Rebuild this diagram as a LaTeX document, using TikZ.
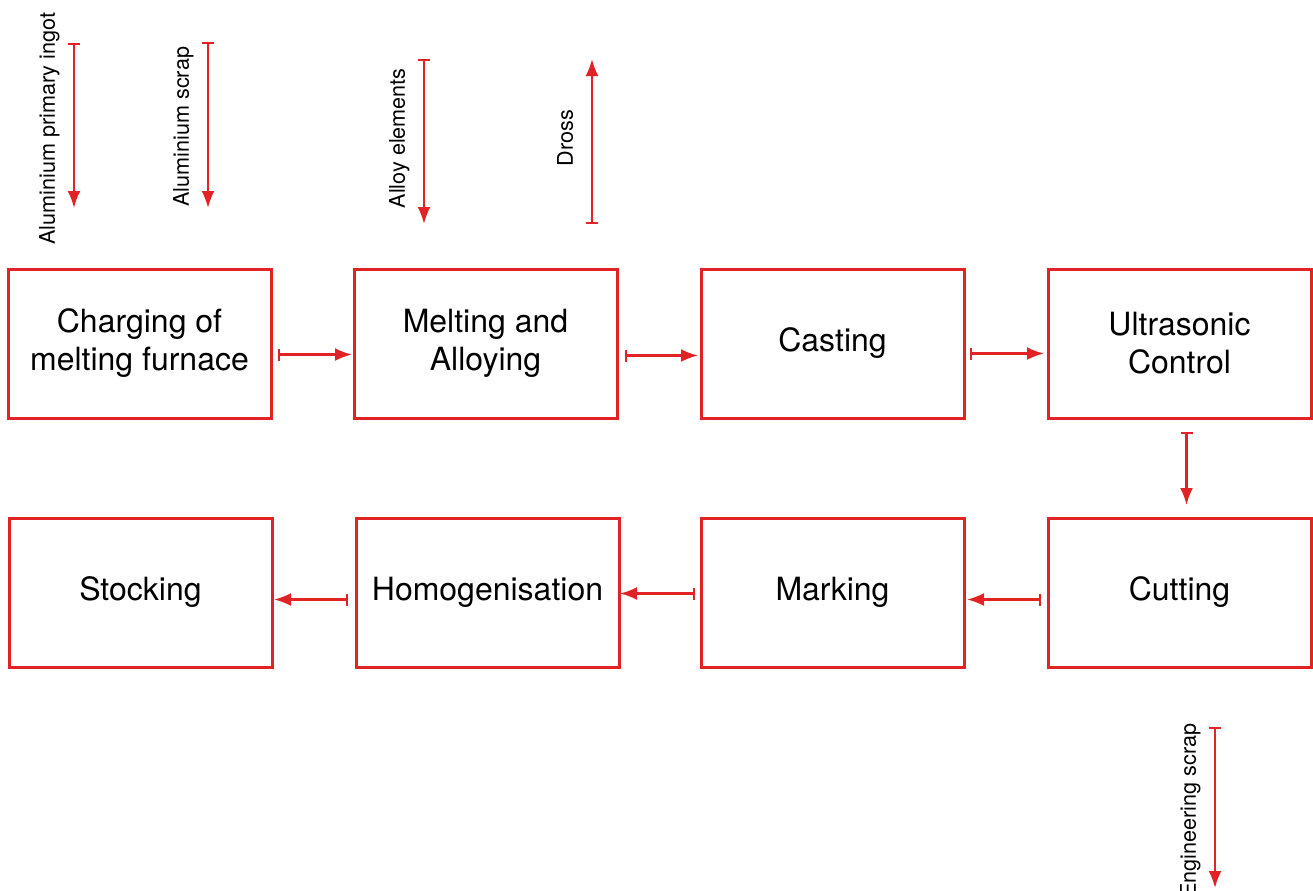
\documentclass[tikz,border=0pt]{standalone}
\usepackage{fontspec}
\setmainfont{TeX Gyre Heros}
\usepackage{tikz}
\usetikzlibrary{positioning,arrows.meta}
\usepackage{xcolor}
\definecolor{flowred}{RGB}{226,35,38}
\tikzstyle{inputlabel} = [
    rotate=90,
    anchor=south,
    font=\fontsize{10.8}{13}\selectfont,
    text=black,
    text depth=0pt,
    inner xsep=0pt,
    inner ysep=9pt
]

\begin{document}
\begin{tikzpicture}[
        x=0.5pt, y=-0.5pt,
        procbox/.style={
            rectangle, draw=flowred, line width=1.5pt,
            minimum width=131.5pt, minimum height=74.5pt,
            outer sep=0pt, align=center,
            font=\fontsize{16}{19}\selectfont
        },
        flow/.style={
            draw=flowred, line width=1.1pt,
            {Bar[width=6pt]}-{Latex[length=8.5pt,width=6.5pt]}
        }
    ]
        \useasboundingbox (0,0) rectangle (1313,890);

        % top row
        \node[procbox] (charging) at (139.5,343.5) {Charging of\\melting furnace};
        \node[procbox] (melting) [right = 41.5pt of charging] {Melting and\\Alloying};
        \node[procbox] (casting) [right = 42pt of melting] {Casting};
        \node[procbox] (ultrasonic) [right = 42pt of casting] {Ultrasonic\\Control};
        % bottom row
        \node[procbox] (cutting) [below = 50pt of ultrasonic] {Cutting};
        \node[procbox] (marking) [left = 42pt of cutting] {Marking};
        \node[procbox] (homog) [left = 41pt of marking] {Homogenisation};
        \node[procbox] (stocking) [left = 42pt of homog] {Stocking};

        \draw[flow] ([xshift=3.5pt,yshift=-5.5pt]charging.east) -- ([xshift=-1pt,yshift=-5.5pt]melting.west);
        \draw[flow] ([xshift=4pt,yshift=-6pt]melting.east) -- ([xshift=-1.5pt,yshift=-6pt]casting.west);
        \draw[flow] ([xshift=3pt,yshift=-5pt]casting.east) -- ([xshift=-2pt,yshift=-5pt]ultrasonic.west);
        \draw[flow] ([xshift=3.5pt,yshift=-7pt]ultrasonic.south) -- ([xshift=3.5pt,yshift=6.5pt]cutting.north);
        \draw[flow] ([xshift=-3.5pt,yshift=-3.5pt]cutting.west) -- ([xshift=1.5pt,yshift=-3.5pt]marking.east);
        \draw[flow] ([xshift=-3pt,yshift=-0.5pt]marking.west) -- ([xshift=0.5pt,yshift=-0.5pt]homog.east);
        \draw[flow] ([xshift=-4pt,yshift=-3.5pt]homog.west) -- ([xshift=1pt,yshift=-3.5pt]stocking.east);

        % material in and out
        \coordinate (ingot-a) at (74,43);
        \coordinate (ingot-b) at (74,208);
        \coordinate (scrap-a) at (208,42);
        \coordinate (scrap-b) at (208,208);
        \coordinate (alloy-a) at (424,59);
        \coordinate (alloy-b) at (424,224);
        \coordinate (dross-a) at (592,224);
        \coordinate (dross-b) at (592,59);
        \coordinate (engscrap-a) at (1215,727);
        \coordinate (engscrap-b) at (1215,888);

        \draw[flow] (ingot-a) -- (ingot-b) node[inputlabel, pos=0.52] (ingot) {Aluminium primary ingot};
        \draw[flow] (scrap-a) -- (scrap-b) node[inputlabel, pos=0.51] (scrap) {Aluminium scrap};
        \draw[flow] (alloy-a) -- (alloy-b) node[inputlabel, pos=0.48] (alloy) {Alloy elements};
        \draw[flow] (dross-a) -- (dross-b) node[inputlabel, pos=0.52] (dross) {Dross};
        \draw[flow] (engscrap-a) -- (engscrap-b) node[inputlabel, pos=0.52] (engscrap) {Engineering scrap};
    \end{tikzpicture}
\end{document}
